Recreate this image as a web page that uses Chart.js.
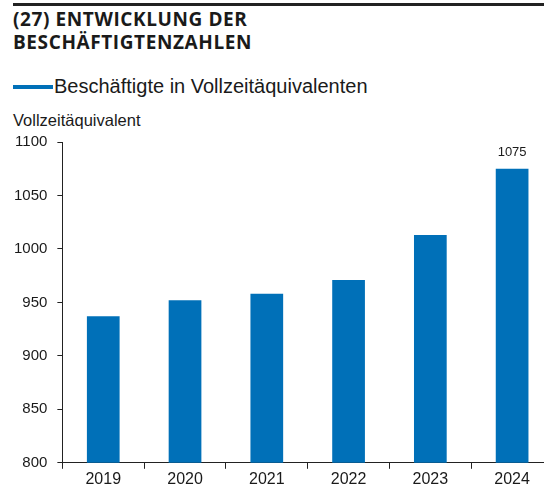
<!DOCTYPE html>
<html>
<head>
<meta charset="utf-8">
<script src="https://cdn.jsdelivr.net/npm/chart.js@4.4.1/dist/chart.umd.min.js"></script>
<style>
  html, body { margin: 0; padding: 0; background: #fff; overflow: hidden; width: 544px; height: 490px; }
  #rule { position: absolute; left: 13px; top: 3px; width: 540px; height: 3px; background: #222; }
  #title { position: absolute; left: 13px; top: 8px; font: bold 19px "Open Sans", sans-serif; line-height: 23px; color: #1a1a1a; letter-spacing: 0.6px; }
  #legend { position: absolute; left: 13px; top: 75px; font: 20px "Liberation Sans", Arial, sans-serif; line-height: 23px; color: #1a1a1a; white-space: nowrap; }
  #legend span.swatch { display: inline-block; width: 40px; height: 4px; background: #0070b8; vertical-align: middle; margin-right: 1px; position: relative; top: -1px; }
  #ytitle { position: absolute; left: 13px; top: 111px; font: 16.5px "Liberation Sans", Arial, sans-serif; color: #1a1a1a; }
  #wrap { position: absolute; left: 0; top: 123px; width: 560px; height: 367px; }
</style>
</head>
<body>
<div id="rule"></div>
<div id="title">(27) ENTWICKLUNG DER<br>BESCHÄFTIGTENZAHLEN</div>
<div id="legend"><span class="swatch"></span>Beschäftigte in Vollzeitäquivalenten</div>
<div id="ytitle">Vollzeitäquivalent</div>
<div id="wrap"><canvas id="chart"></canvas></div>
<script>
// Beschäftigte (FTE) per year
const years = ['2019', '2020', '2021', '2022', '2023', '2024'];
const fte = [937, 952, 958, 971, 1013, 1075];
const showValue = [false, false, false, false, false, true];
const yTicks = [800, 850, 900, 950, 1000, 1050, 1100];

const barColor = '#0070b8';

// value label above selected bars
const valueLabels = {
  id: 'valueLabels',
  afterDatasetsDraw(chart) {
    const { ctx } = chart;
    const meta = chart.getDatasetMeta(0);
    ctx.save();
    ctx.font = '13px "Liberation Sans", Arial, sans-serif';
    ctx.fillStyle = '#1a1a1a';
    ctx.textAlign = 'center';
    ctx.textBaseline = 'bottom';
    meta.data.forEach((bar, i) => {
      if (showValue[i]) ctx.fillText(String(fte[i]), bar.x, bar.y - 10);
    });
    ctx.restore();
  }
};

new Chart(document.getElementById('chart'), {
  type: 'bar',
  data: {
    labels: years,
    datasets: [{
      label: 'Beschäftigte in Vollzeitäquivalenten',
      data: fte,
      backgroundColor: barColor,
      barPercentage: 0.8,
      categoryPercentage: 0.5,
    }],
  },
  options: {
    responsive: true,
    maintainAspectRatio: false,
    animation: false,
    layout: { padding: { top: 4, right: 7, left: 4, bottom: 0 } },
    plugins: {
      legend: { display: false },
      tooltip: { enabled: false },
    },
    scales: {
      x: {
        grid: { display: true, drawOnChartArea: false, offset: true, tickLength: 6, color: '#222' },
        border: { display: true, color: '#222', width: 1 },
        ticks: { color: '#1a1a1a', font: { size: 16, family: '"Liberation Sans", Arial, sans-serif' }, padding: 1 },
      },
      y: {
        min: 800,
        max: 1100,
        afterBuildTicks: (axis) => { axis.ticks = yTicks.map(v => ({ value: v })); },
        grid: { display: true, drawOnChartArea: false, tickLength: 5, color: '#222' },
        border: { display: true, color: '#222', width: 1 },
        ticks: {
          color: '#1a1a1a',
          font: { size: 15, family: '"Liberation Sans", Arial, sans-serif' },
          padding: 10,
          callback: (v) => String(v),
        },
      },
    },
  },
  plugins: [valueLabels],
});
</script>
</body>
</html>
